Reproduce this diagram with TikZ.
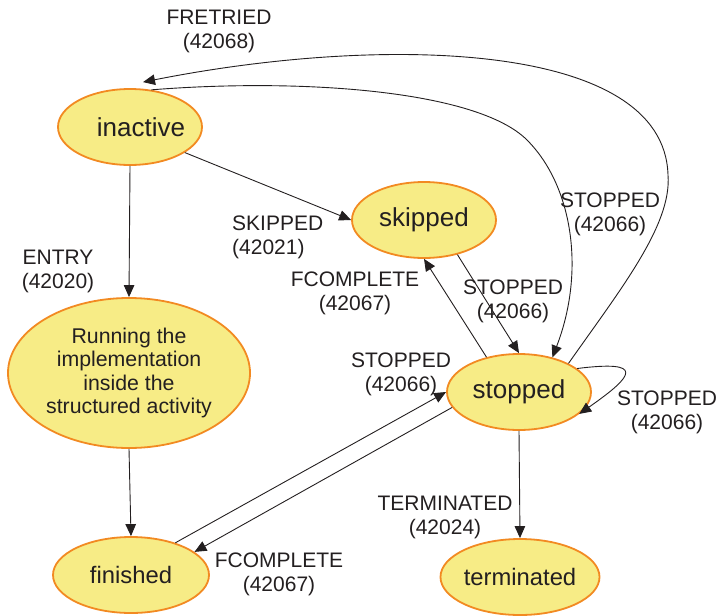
\documentclass[tikz,border=0pt]{standalone}
\usepackage{fontspec}
\setmainfont{Liberation Sans}
\usetikzlibrary{shapes.geometric,arrows.meta,calc}
\definecolor{stfill}{HTML}{F7EC86}
\definecolor{stdraw}{HTML}{F28A22}
\definecolor{ln}{HTML}{231F20}
\tikzset{
 state/.style={ellipse, draw=stdraw, fill=stfill, line width=1.8pt, inner sep=0pt, text=ln, minimum width=144pt, minimum height=76pt, font=\fontsize{26}{30}\selectfont},
 lbl/.style={inner sep=0pt, align=center, text=ln, font=\fontsize{21}{24}\selectfont},
 tr/.style={draw=ln, line width=0.9pt, -{Triangle[length=12pt,width=10.5pt]}},
}
\begin{document}
\begin{tikzpicture}[x=1pt,y=-1pt]
\useasboundingbox (0,0) rectangle (719,615);
% states
\node[state] (inactive) at (130,127) {\hspace*{11pt}inactive\hspace*{-11pt}};
\node[state] (skipped) at (424,220) {skipped};
\node[state] (stopped) at (519,392) {stopped};
\node[state, minimum width=242pt, minimum height=150pt, align=center, font=\fontsize{21.3}{23.5}\selectfont] (run) at (129,373) {Running the\\implementation\\inside the\\structured activity};
\node[state, minimum width=156pt, font=\fontsize{23.8}{28}\selectfont] (finished) at (131,575) {finished};
\node[state, minimum width=156pt, font=\fontsize{23.8}{28}\selectfont] (terminated) at (520,577) {terminated};
\coordinate (frend) at ($(inactive.north)+(13,-6)$);
% transitions
\draw[tr] (inactive.south) -- (run.north);
\draw[tr] (run.south) -- (finished.north);
\draw[tr] (inactive.-25.7) -- (skipped.west);
\draw[tr] (skipped.-46.7) -- (stopped.north);
\draw[tr] (stopped.133.3) -- (skipped.south);
\draw[tr] (inactive.60) .. controls (300,78) and (477,90) .. (527,140) .. controls (572,185) and (586,270) .. (stopped.46);
\draw[tr] (stopped.30) .. controls (620,290) and (672,225) .. (668,175) .. controls (664,40) and (380,35) .. (frend);
\draw[tr] (stopped.22) .. controls (645,360) and (635,375) .. (stopped.-20);
\draw[tr] (finished.36) -- (stopped.west);
\draw[tr] (stopped.-167) -- (finished.20);
\draw[tr] (stopped.south) -- (terminated.north);
% labels
\node[lbl] (lfretried) at (219,31) {FRETRIED\\(42068)};
\node[lbl] (lentry) at (58,271) {ENTRY\\(42020)};
\node[lbl, anchor=west, align=left] (lskipped) at (232,237) {SKIPPED\\(42021)};
\node[lbl] (lfcomp1) at (355,293) {FCOMPLETE\\(42067)};
\node[lbl] (lstop1) at (513,301) {STOPPED\\(42066)};
\node[lbl] (lstop2) at (610,214) {STOPPED\\(42066)};
\node[lbl] (lstop3) at (401,374) {STOPPED\\(42066)};
\node[lbl] (lstop4) at (667,412) {STOPPED\\(42066)};
\node[lbl] (lterm) at (445,517) {TERMINATED\\(42024)};
\node[lbl] (lfcomp2) at (279,574) {FCOMPLETE\\(42067)};
\end{tikzpicture}
\end{document}
